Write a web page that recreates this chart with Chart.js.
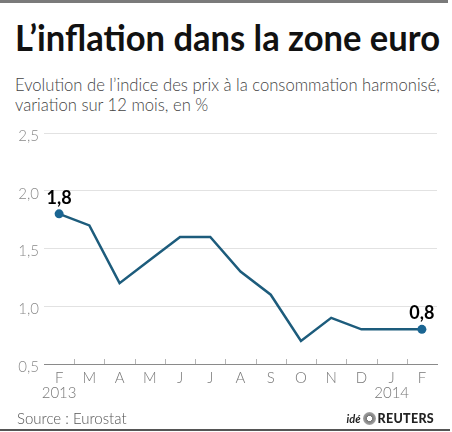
<!DOCTYPE html>
<html>
<head>
<meta charset="utf-8">
<script src="https://cdn.jsdelivr.net/npm/chart.js@4.4.1/dist/chart.umd.min.js"></script>
<style>
  body { margin:0; background:#fff; }
  #wrap { position:relative; width:452px; height:432px; overflow:hidden; background:#fff; font-family:Lato, "Open Sans", sans-serif; }
  #topbar { position:absolute; left:0; top:0; width:448px; height:3px; background:#7a7a7a; }
  #title { position:absolute; left:15px; top:14px; font-size:37px; font-weight:700; color:#111; white-space:nowrap; transform-origin:0 0; }
  #sub { position:absolute; left:15px; top:75px; font-size:17.5px; font-weight:300; color:#444; line-height:20px; white-space:nowrap; transform-origin:0 0; }
  #chartbox { position:absolute; left:0; top:110px; width:452px; height:300px; }
  #source { position:absolute; left:17px; top:409px; font-size:15px; font-weight:300; color:#555; }
  #logo { position:absolute; right:18px; top:411px; font-size:12.5px; color:#222; white-space:nowrap; }
  #logo .ide { font-style:italic; font-weight:700; font-size:11px; }
  #logo .dot { display:inline-block; width:13px; height:13px; border-radius:50%; background:radial-gradient(circle,#fff 25%,#777 30%,#999 60%,#ccc 100%); vertical-align:-2px; margin:0 2px; }
  #logo .reu { font-weight:900; letter-spacing:0.3px; }
  #bottombar { position:absolute; left:0; top:429px; width:450px; height:2px; background:#555; }
</style>
</head>
<body>
<div id="wrap">
  <div id="topbar"></div>
  <div id="title" data-w="425">L’inflation dans la zone euro</div>
  <div id="sub" data-w="425">Evolution de l’indice des prix à la consommation harmonisé,<br>variation sur 12 mois, en %</div>
  <div id="chartbox"><canvas id="chart" width="452" height="300"></canvas></div>
  <div id="source">Source : Eurostat</div>
  <div id="logo"><span class="ide">idé</span><span class="dot"></span><span class="reu">REUTERS</span></div>
  <div id="bottombar"></div>
</div>
<script>
var months = ['F','M','A','M','J','J','A','S','O','N','D','J','F'];
var years = ['2013','','','','','','','','','','','2014',''];
var inflation = [1.8, 1.7, 1.2, 1.4, 1.6, 1.6, 1.3, 1.1, 0.7, 0.9, 0.8, 0.8, 0.8];
var labelled = [0, 12];
var yTicks = [0.5, 1.0, 1.5, 2.0, 2.5];

// squeeze the header text horizontally to the width it has in the original
document.querySelectorAll('[data-w]').forEach(el => {
    let w = el.getBoundingClientRect().width;
    let target = +el.dataset.w;
    if (w > 0) el.style.transform = `scaleX(${target / w})`;
});

var labels = [];
for (let i = 0; i < months.length; i++) {
    labels.push(years[i] ? [months[i], years[i]] : months[i]);
}

function frNum(v){
    return v.toFixed(1).replace('.', ',');
}

// small ticks between the months, pointing up from the axis
var betweenTicks = {
    id: 'betweenTicks',
    afterDraw(chart){
        let ctx = chart.ctx;
        let x = chart.scales.x;
        let bottom = chart.chartArea.bottom;
        ctx.save();
        ctx.strokeStyle = '#b5b5b5';
        ctx.lineWidth = 1;
        for (let i = 0; i < months.length - 1; i++) {
            let px = Math.round((x.getPixelForValue(i) + x.getPixelForValue(i + 1)) / 2) + 0.5;
            ctx.beginPath();
            ctx.moveTo(px, bottom);
            ctx.lineTo(px, bottom - 5);
            ctx.stroke();
        }
        ctx.restore();
    }
};

var endLabels = {
    id: 'endLabels',
    afterDatasetsDraw(chart){
        let ctx = chart.ctx;
        let meta = chart.getDatasetMeta(0);
        ctx.save();
        ctx.font = 'bold 18px Lato, "Open Sans", sans-serif';
        ctx.fillStyle = '#000';
        ctx.textAlign = 'center';
        ctx.textBaseline = 'bottom';
        labelled.forEach(i => {
            let p = meta.data[i];
            ctx.fillText(frNum(inflation[i]), p.x, p.y - 7);
        });
        ctx.restore();
    }
};

let ctx = document.getElementById('chart').getContext('2d');
let myChart = new Chart(ctx, {
    type: 'line',
    data: {
        labels: labels,
        datasets: [{
            data: inflation,
            borderColor: '#1d5c7c',
            borderWidth: 2.5,
            tension: 0,
            fill: false,
            pointRadius: inflation.map((v, i) => labelled.includes(i) ? 4.5 : 0),
            pointBackgroundColor: '#1a6592',
            pointBorderWidth: 0
        }]
    },
    options: {
        responsive: false,
        animation: false,
        layout: { padding: { top: 23, right: 15, left: 0, bottom: 0 } },
        plugins: { legend: { display: false }, tooltip: { enabled: false } },
        scales: {
            x: {
                offset: true,
                grid: { display: false, drawTicks: false },
                border: { display: true, color: '#8a8a8a', width: 1 },
                ticks: {
                    color: '#777',
                    padding: 6,
                    maxRotation: 0,
                    autoSkip: false,
                    font: { family: 'Lato', size: 15, weight: 300, lineHeight: 1.05 }
                },
                afterFit(scale){ scale.height = 46; }
            },
            y: {
                min: 0.5,
                max: 2.5,
                afterBuildTicks(scale){ scale.ticks = yTicks.map(v => ({ value: v })); },
                grid: {
                    drawTicks: false,
                    color: c => c.tick && c.tick.value === 0.5 ? 'rgba(0,0,0,0)' : '#e2e2e2'
                },
                border: { display: false },
                ticks: {
                    color: '#8a8a8a',
                    padding: 5,
                    labelOffset: 3,
                    font: { family: 'Lato', size: 15, weight: 300 },
                    callback: v => frNum(v)
                },
                afterFit(scale){ scale.width = 44; }
            }
        }
    },
    plugins: [betweenTicks, endLabels]
});
</script>
</body>
</html>
